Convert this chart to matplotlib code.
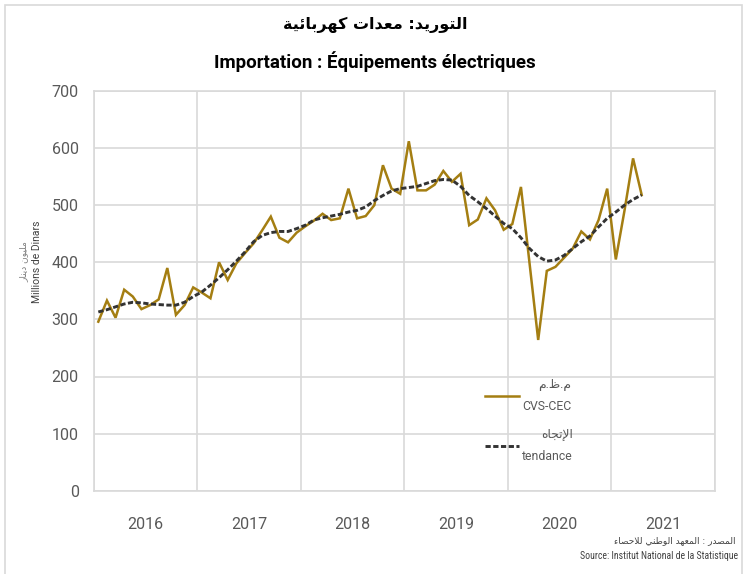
import matplotlib
matplotlib.use('Agg')
import matplotlib.pyplot as plt
import numpy as np
from matplotlib.patches import Rectangle
from matplotlib.lines import Line2D

# ---------------- data ----------------
years = [2016, 2017, 2018, 2019, 2020, 2021]
cvs_cec = [296, 333, 303, 352, 340, 318, 325, 335, 390, 308, 325, 356,
           347, 337, 400, 369, 398, 416, 433, 456, 480, 443, 435, 452,
           463, 473, 485, 474, 477, 529, 477, 481, 500, 570, 529, 520,
           612, 526, 526, 536, 560, 541, 555, 465, 475, 512, 491, 457,
           467, 532, 398, 264, 385, 392, 408, 424, 454, 440, 474, 529,
           405, 490, 582, 518]
tendance = [313, 317, 322, 327, 330, 329, 327, 326, 325, 325, 330, 340,
            348, 360, 373, 387, 402, 418, 436, 447, 452, 454, 454, 459,
            465, 474, 478, 481, 484, 488, 491, 497, 508, 517, 525, 529,
            531, 533, 538, 543, 545, 544, 533, 517, 506, 494, 481, 468,
            459, 443, 424, 410, 402, 404, 412, 424, 436, 446, 462, 477,
            488, 500, 510, 518]
yticks = [0, 100, 200, 300, 400, 500, 600, 700]

title_ar = "التوريد: معدات كهربائية"
title_fr = "Importation : Équipements électriques"
ylab_ar = "مليون دينار"
ylab_fr = "Millions de Dinars"
leg1_ar, leg1_fr = "م.ظ.م", "CVS-CEC"
leg2_ar, leg2_fr = "الإتجاه", "tendance"
src_ar = "المصدر : المعهد الوطني للاحصاء"
src_fr = "Source: Institut National de la Statistique"

# ------------- minimal Arabic shaping (presentation forms + RTL) -------------
_T = {'ء': (0xFE80, 1), 'آ': (0xFE81, 2), 'أ': (0xFE83, 2), 'ؤ': (0xFE85, 2),
      'إ': (0xFE87, 2), 'ئ': (0xFE89, 4), 'ا': (0xFE8D, 2), 'ب': (0xFE8F, 4),
      'ة': (0xFE93, 2), 'ت': (0xFE95, 4), 'ث': (0xFE99, 4), 'ج': (0xFE9D, 4),
      'ح': (0xFEA1, 4), 'خ': (0xFEA5, 4), 'د': (0xFEA9, 2), 'ذ': (0xFEAB, 2),
      'ر': (0xFEAD, 2), 'ز': (0xFEAF, 2), 'س': (0xFEB1, 4), 'ش': (0xFEB5, 4),
      'ص': (0xFEB9, 4), 'ض': (0xFEBD, 4), 'ط': (0xFEC1, 4), 'ظ': (0xFEC5, 4),
      'ع': (0xFEC9, 4), 'غ': (0xFECD, 4), 'ف': (0xFED1, 4), 'ق': (0xFED5, 4),
      'ك': (0xFED9, 4), 'ل': (0xFEDD, 4), 'م': (0xFEE1, 4), 'ن': (0xFEE5, 4),
      'ه': (0xFEE9, 4), 'و': (0xFEED, 2), 'ى': (0xFEEF, 2), 'ي': (0xFEF1, 4)}
_LA = {'آ': 0xFEF5, 'أ': 0xFEF7, 'إ': 0xFEF9, 'ا': 0xFEFB}


def shape(s):
    toks = []
    i = 0
    while i < len(s):
        c = s[i]
        if c == 'ل' and i + 1 < len(s) and s[i + 1] in _LA:
            toks.append(('L', _LA[s[i + 1]], 2))
            i += 2
        elif c in _T:
            b, n = _T[c]
            toks.append(('L', b, n))
            i += 1
        else:
            toks.append(('O', c, 0))
            i += 1
    out = []
    for k, (kind, b, n) in enumerate(toks):
        if kind == 'O':
            out.append(b)
            continue
        prev = toks[k - 1] if k > 0 else None
        nxt = toks[k + 1] if k + 1 < len(toks) else None
        jp = prev is not None and prev[0] == 'L' and prev[2] == 4
        jn = n == 4 and nxt is not None and nxt[0] == 'L' and nxt[2] > 1
        if n == 1:
            f = 0
        elif n == 2:
            f = 1 if jp else 0
        else:
            f = 3 if (jp and jn) else (1 if jp else (2 if jn else 0))
        out.append(chr(b + f))
    return ''.join(reversed(out))


# ---------------- style ----------------
MAIN = ['Roboto', 'DejaVu Sans']
plt.rcParams['font.family'] = MAIN
GOLD = '#A47E12'
GRID = '#d9d9d9'
TXT = '#595959'
DASH = (0, (1.8, 0.85))

fig = plt.figure(figsize=(7.5, 5.74), dpi=100)
fig.patches.append(Rectangle((5 / 750, -0.01), 737 / 750, 1 - 5 / 574 + 0.01,
                             transform=fig.transFigure, fill=False,
                             edgecolor=GRID, lw=1.2))

ax = fig.add_axes([94 / 750, (574 - 490.7) / 574, 621 / 750, 399.7 / 574])

x = np.arange(len(cvs_cec)) + 0.5
ax.plot(x, cvs_cec, color=GOLD, lw=1.8, solid_joinstyle='miter', zorder=3)
ax.plot(x, tendance, color='#333333', lw=2.1, ls=DASH, zorder=4)

ax.set_xlim(0, 12 * len(years))
ax.set_ylim(0, 700)
ax.set_yticks(yticks)
ax.set_xticks(np.arange(0, 12 * len(years) + 1, 12))
ax.set_xticklabels([])
ax.set_xticks(np.arange(6, 12 * len(years), 12), minor=True)
ax.set_xticklabels([str(y) for y in years], minor=True)
ax.tick_params(which='both', length=0)
ax.tick_params(axis='y', pad=11, labelsize=11.5, labelcolor=TXT)
ax.tick_params(axis='x', which='minor', pad=19, labelsize=11.5, labelcolor=TXT)
ax.grid(which='major', color=GRID, lw=1.2)
ax.set_axisbelow(True)
for sp in ax.spines.values():
    sp.set_color(GRID)
    sp.set_linewidth(1.2)

# legend
handles = [Line2D([], [], color=GOLD, lw=1.8),
           Line2D([], [], color='#333333', lw=2.1, ls=DASH)]
labels = [shape(leg1_ar) + "\n" + leg1_fr, shape(leg2_ar) + "\n" + leg2_fr]
leg = ax.legend(handles, labels, loc='upper left', bbox_to_anchor=(0.612, 0.31),
                frameon=False, fontsize=8.8, handlelength=2.75, handletextpad=0.3,
                labelspacing=1.2, labelcolor=TXT)
for t in leg.get_texts():
    t.set_multialignment('right')
    t.set_linespacing(1.95)

# titles
fig.text(0.5, 1 - 25 / 574, shape(title_ar), ha='center', va='center',
         fontsize=11.5, fontweight='bold', color='black',
         family=['DejaVu Sans'])
fig.text(0.5, 1 - 62 / 574, title_fr, ha='center', va='center',
         fontsize=13.5, fontweight='bold', color='black')

# y labels
fig.text(24 / 750, 1 - 262 / 574, shape(ylab_ar), rotation=90, ha='center',
         va='center', fontsize=6.5, color='#7f7f7f', family=['DejaVu Sans'])
fig.text(37 / 750, 1 - 262 / 574, ylab_fr, rotation=90, ha='center',
         va='center', fontsize=7.5, color='#404040')

# source
fig.text(736 / 750, 1 - 541 / 574, shape(src_ar), ha='right', va='center',
         fontsize=6.5, color='#404040', family=['DejaVu Sans'])
fig.text(738 / 750, 1 - 556 / 574, src_fr, ha='right', va='center',
         fontsize=7, color='#404040', family=['Roboto Condensed', 'Liberation Sans Narrow', 'DejaVu Sans'])

fig.savefig('out.png', dpi=100)
